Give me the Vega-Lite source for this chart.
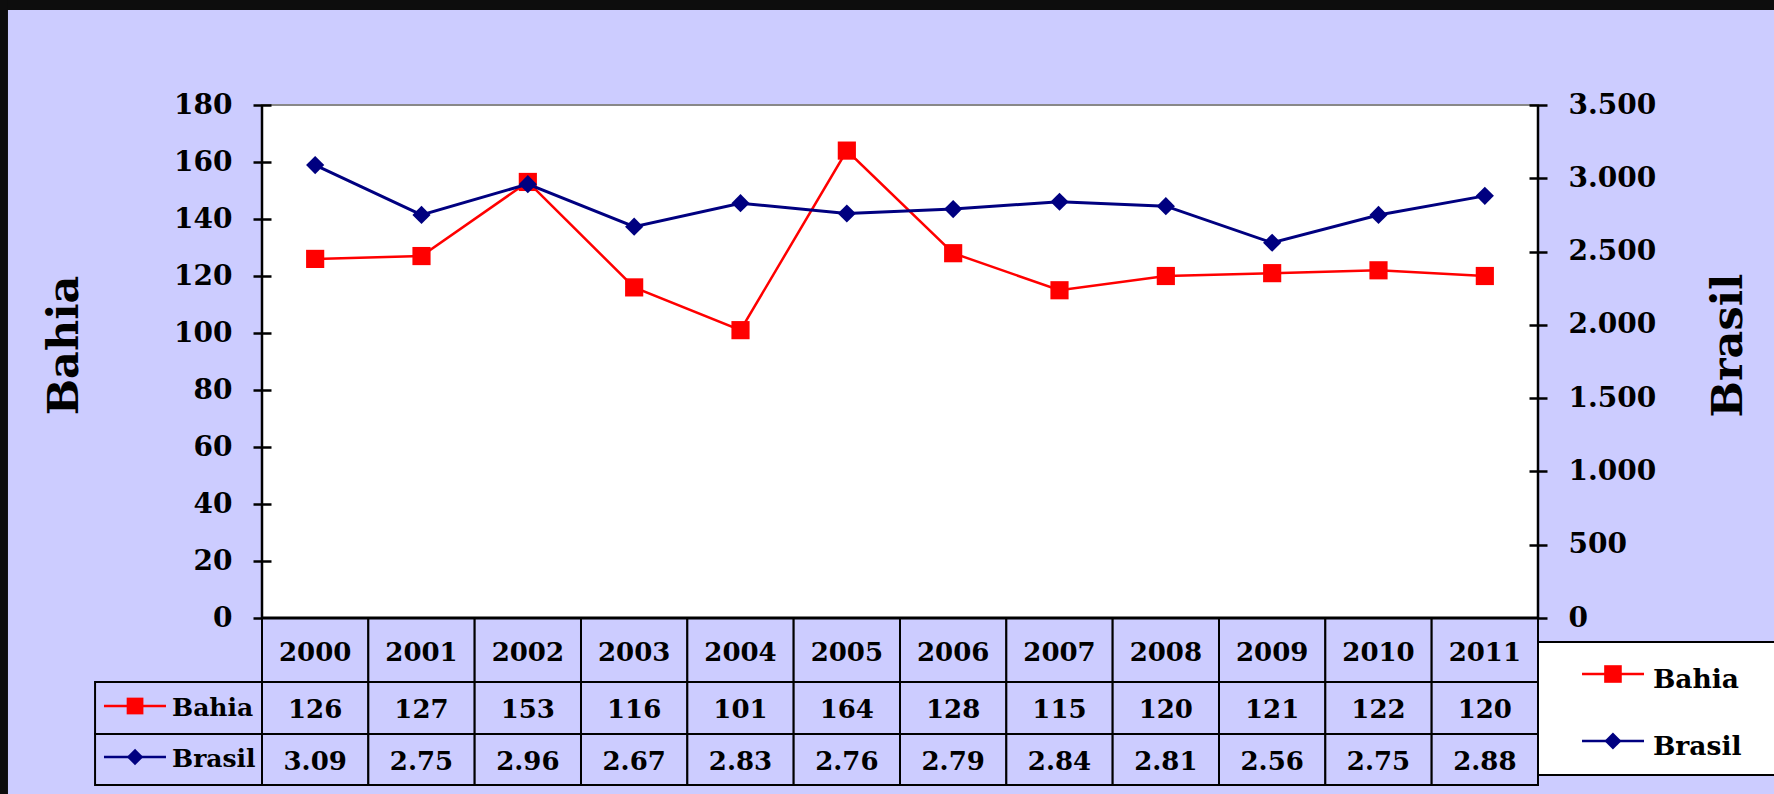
{
  "$schema": "https://vega.github.io/schema/vega-lite/v6.json",
  "width": 1276,
  "height": 513,
  "autosize": {"type": "none"},
  "padding": {"left": 262, "top": 105, "right": 236, "bottom": 176},
  "background": "#CCCCFF",
  "config": {
    "view": {"fill": "white", "stroke": "#888888", "strokeWidth": 2},
    "font": "DejaVu Serif",
    "axis": {
      "labelFont": "DejaVu Serif", "labelFontWeight": "bold", "labelFontSize": 28, "labelColor": "black",
      "tickColor": "black", "tickWidth": 2.5, "tickSize": 18, "offset": -9, "domain": false, "grid": false,
      "labelPadding": 21,
      "titleFont": "DejaVu Serif", "titleFontWeight": "bold", "titleFontSize": 43, "titleColor": "black"
    }
  },
  "data": {"values": [
    {"year": 2000, "bahia": 126, "brasil": 3.09},
    {"year": 2001, "bahia": 127, "brasil": 2.75},
    {"year": 2002, "bahia": 153, "brasil": 2.96},
    {"year": 2003, "bahia": 116, "brasil": 2.67},
    {"year": 2004, "bahia": 101, "brasil": 2.83},
    {"year": 2005, "bahia": 164, "brasil": 2.76},
    {"year": 2006, "bahia": 128, "brasil": 2.79},
    {"year": 2007, "bahia": 115, "brasil": 2.84},
    {"year": 2008, "bahia": 120, "brasil": 2.81},
    {"year": 2009, "bahia": 121, "brasil": 2.56},
    {"year": 2010, "bahia": 122, "brasil": 2.75},
    {"year": 2011, "bahia": 120, "brasil": 2.88}
  ]},
  "layer": [
    {
      "layer": [
        {
          "data": {"values": [{"part": "frame"}]},
          "mark": {"type": "rect", "color": "#0d0d0d"},
          "encoding": {
            "x": {"datum": 1990, "type": "quantitative", "axis": null},
            "x2": {"datum": 2020},
            "y": {"datum": 213.3, "type": "quantitative"},
            "y2": {"datum": 240}
          }
        },
        {
          "data": {"values": [{"part": "frame"}]},
          "mark": {"type": "rect", "color": "#0d0d0d"},
          "encoding": {
            "x": {"datum": 1990, "type": "quantitative", "axis": null},
            "x2": {"datum": 1997.111},
            "y": {"datum": -100, "type": "quantitative"},
            "y2": {"datum": 240}
          }
        },
        {
          "data": {"values": [{"part": "legendbox"}]},
          "mark": {"type": "rect", "fill": "white", "stroke": "black", "strokeWidth": 2},
          "encoding": {
            "x": {"datum": 2011.5, "type": "quantitative", "axis": null},
            "x2": {"datum": 2016},
            "y": {"datum": -8.42, "type": "quantitative"},
            "y2": {"datum": -55.09}
          }
        },
        {
          "mark": {"type": "rect", "width": 106.333, "fill": "#CCCCFF", "stroke": "black", "strokeWidth": 2},
          "encoding": {
            "x": {"field": "year", "type": "quantitative", "axis": null},
            "y": {"datum": 0, "type": "quantitative"},
            "y2": {"datum": -22.46}
          }
        },
        {
          "mark": {"type": "rect", "width": 106.333, "fill": "#CCCCFF", "stroke": "black", "strokeWidth": 2},
          "encoding": {
            "x": {"field": "year", "type": "quantitative", "axis": null},
            "y": {"datum": -22.46, "type": "quantitative"},
            "y2": {"datum": -40.7}
          }
        },
        {
          "mark": {"type": "rect", "width": 106.333, "fill": "#CCCCFF", "stroke": "black", "strokeWidth": 2},
          "encoding": {
            "x": {"field": "year", "type": "quantitative", "axis": null},
            "y": {"datum": -40.7, "type": "quantitative"},
            "y2": {"datum": -58.6}
          }
        },
        {
          "data": {"values": [{"series": "Bahia"}]},
          "layer": [
            {
              "mark": {"type": "rect", "fill": "#CCCCFF", "stroke": "black", "strokeWidth": 2},
              "encoding": {
                "x": {"datum": 1997.93, "type": "quantitative", "axis": null},
                "x2": {"datum": 1999.5},
                "y": {"datum": -22.46, "type": "quantitative"},
                "y2": {"datum": -40.7}
              }
            },
            {
              "mark": {"type": "rule", "color": "#FF0000", "strokeWidth": 2.5},
              "encoding": {
                "x": {"datum": 1998.014, "type": "quantitative", "axis": null},
                "x2": {"datum": 1998.597},
                "y": {"datum": -30.88, "type": "quantitative"}
              }
            },
            {
              "mark": {"type": "point", "shape": "square", "size": 280, "filled": true, "color": "#FF0000", "opacity": 1},
              "encoding": {
                "x": {"datum": 1998.306, "type": "quantitative", "axis": null},
                "y": {"datum": -30.88, "type": "quantitative"}
              }
            },
            {
              "mark": {"type": "text", "align": "left", "baseline": "middle", "font": "DejaVu Serif", "fontWeight": "bold", "fontSize": 25, "color": "black"},
              "encoding": {
                "x": {"datum": 1998.654, "type": "quantitative", "axis": null},
                "y": {"datum": -31.58, "type": "quantitative"},
                "text": {"field": "series", "type": "nominal"}
              }
            },
            {
              "mark": {"type": "rule", "color": "#FF0000", "strokeWidth": 2.5},
              "encoding": {
                "x": {"datum": 2011.914, "type": "quantitative", "axis": null},
                "x2": {"datum": 2012.497},
                "y": {"datum": -19.65, "type": "quantitative"}
              }
            },
            {
              "mark": {"type": "point", "shape": "square", "size": 310, "filled": true, "color": "#FF0000", "opacity": 1},
              "encoding": {
                "x": {"datum": 2012.205, "type": "quantitative", "axis": null},
                "y": {"datum": -19.65, "type": "quantitative"}
              }
            },
            {
              "mark": {"type": "text", "align": "left", "baseline": "middle", "font": "DejaVu Serif", "fontWeight": "bold", "fontSize": 26.5, "color": "black"},
              "encoding": {
                "x": {"datum": 2012.581, "type": "quantitative", "axis": null},
                "y": {"datum": -21.75, "type": "quantitative"},
                "text": {"field": "series", "type": "nominal"}
              }
            }
          ]
        },
        {
          "data": {"values": [{"series": "Brasil"}]},
          "layer": [
            {
              "mark": {"type": "rect", "fill": "#CCCCFF", "stroke": "black", "strokeWidth": 2},
              "encoding": {
                "x": {"datum": 1997.93, "type": "quantitative", "axis": null},
                "x2": {"datum": 1999.5},
                "y": {"datum": -40.7, "type": "quantitative"},
                "y2": {"datum": -58.6}
              }
            },
            {
              "mark": {"type": "rule", "color": "#000080", "strokeWidth": 2.5},
              "encoding": {
                "x": {"datum": 1998.014, "type": "quantitative", "axis": null},
                "x2": {"datum": 1998.597},
                "y": {"datum": -48.77, "type": "quantitative"}
              }
            },
            {
              "mark": {"type": "point", "shape": "diamond", "size": 270, "filled": true, "color": "#000080", "opacity": 1},
              "encoding": {
                "x": {"datum": 1998.306, "type": "quantitative", "axis": null},
                "y": {"datum": -48.77, "type": "quantitative"}
              }
            },
            {
              "mark": {"type": "text", "align": "left", "baseline": "middle", "font": "DejaVu Serif", "fontWeight": "bold", "fontSize": 25, "color": "black"},
              "encoding": {
                "x": {"datum": 1998.654, "type": "quantitative", "axis": null},
                "y": {"datum": -49.47, "type": "quantitative"},
                "text": {"field": "series", "type": "nominal"}
              }
            },
            {
              "mark": {"type": "rule", "color": "#000080", "strokeWidth": 2.5},
              "encoding": {
                "x": {"datum": 2011.914, "type": "quantitative", "axis": null},
                "x2": {"datum": 2012.497},
                "y": {"datum": -43.16, "type": "quantitative"}
              }
            },
            {
              "mark": {"type": "point", "shape": "diamond", "size": 290, "filled": true, "color": "#000080", "opacity": 1},
              "encoding": {
                "x": {"datum": 2012.205, "type": "quantitative", "axis": null},
                "y": {"datum": -43.16, "type": "quantitative"}
              }
            },
            {
              "mark": {"type": "text", "align": "left", "baseline": "middle", "font": "DejaVu Serif", "fontWeight": "bold", "fontSize": 26.5, "color": "black"},
              "encoding": {
                "x": {"datum": 2012.581, "type": "quantitative", "axis": null},
                "y": {"datum": -45.26, "type": "quantitative"},
                "text": {"field": "series", "type": "nominal"}
              }
            }
          ]
        },
        {
          "mark": {"type": "text", "baseline": "middle", "font": "DejaVu Serif", "fontWeight": "bold", "fontSize": 26, "color": "black"},
          "encoding": {
            "x": {"field": "year", "type": "quantitative", "axis": null},
            "y": {"datum": -12.28, "type": "quantitative"},
            "text": {"field": "year", "type": "quantitative", "format": "d"}
          }
        },
        {
          "mark": {"type": "text", "baseline": "middle", "font": "DejaVu Serif", "fontWeight": "bold", "fontSize": 26, "color": "black"},
          "encoding": {
            "x": {"field": "year", "type": "quantitative", "axis": null},
            "y": {"datum": -32.28, "type": "quantitative"},
            "text": {"field": "bahia", "type": "quantitative", "format": "d"}
          }
        },
        {
          "mark": {"type": "text", "baseline": "middle", "font": "DejaVu Serif", "fontWeight": "bold", "fontSize": 26, "color": "black"},
          "encoding": {
            "x": {"field": "year", "type": "quantitative", "axis": null},
            "y": {"datum": -50.53, "type": "quantitative"},
            "text": {"field": "brasil", "type": "quantitative", "format": ".2f"}
          }
        },
        {
          "data": {"values": [{"part": "tabletop"}]},
          "mark": {"type": "rule", "color": "black", "strokeWidth": 3},
          "encoding": {
            "x": {"datum": 1999.5, "type": "quantitative", "axis": null},
            "x2": {"datum": 2011.5},
            "y": {"datum": 0, "type": "quantitative"}
          }
        },
        {
          "data": {"values": [{"side": 1999.5}, {"side": 2011.5}]},
          "mark": {"type": "rule", "color": "black", "strokeWidth": 2.5},
          "encoding": {
            "x": {"field": "side", "type": "quantitative", "axis": null},
            "y": {"datum": 0, "type": "quantitative"},
            "y2": {"datum": 180}
          }
        },
        {
          "mark": {"type": "line", "color": "#FF0000", "strokeWidth": 2.5},
          "encoding": {
            "x": {"field": "year", "type": "quantitative", "scale": {"domain": [1999.5, 2011.5], "nice": false, "zero": false}, "axis": null},
            "y": {
              "field": "bahia", "type": "quantitative",
              "scale": {"domain": [0, 180], "nice": false, "zero": false},
              "axis": {
                "orient": "left", "values": [0, 20, 40, 60, 80, 100, 120, 140, 160, 180],
                "title": "Bahia", "titlePadding": 87, "titleY": 240
              }
            }
          }
        },
        {
          "mark": {"type": "point", "shape": "square", "filled": true, "opacity": 1, "size": 330, "color": "#FF0000"},
          "encoding": {
            "x": {"field": "year", "type": "quantitative", "axis": null},
            "y": {"field": "bahia", "type": "quantitative"}
          }
        }
      ]
    },
    {
      "layer": [
        {
          "mark": {"type": "line", "color": "#000080", "strokeWidth": 3},
          "encoding": {
            "x": {"field": "year", "type": "quantitative", "scale": {"domain": [1999.5, 2011.5], "nice": false, "zero": false}, "axis": null},
            "y": {
              "field": "brasil", "type": "quantitative",
              "scale": {"domain": [0, 3.5], "nice": false, "zero": false},
              "axis": {
                "orient": "right", "values": [0, 0.5, 1, 1.5, 2, 2.5, 3, 3.5],
                "labelExpr": "replace(format(datum.value*1000, ',d'), ',', '.')",
                "title": "Brasil", "titleAngle": -90, "titleBaseline": "top", "titlePadding": 52, "titleY": 240
              }
            }
          }
        },
        {
          "mark": {"type": "point", "shape": "diamond", "filled": true, "opacity": 1, "size": 330, "color": "#000080"},
          "encoding": {
            "x": {"field": "year", "type": "quantitative", "axis": null},
            "y": {"field": "brasil", "type": "quantitative"}
          }
        }
      ]
    }
  ],
  "resolve": {"scale": {"y": "independent"}}
}
